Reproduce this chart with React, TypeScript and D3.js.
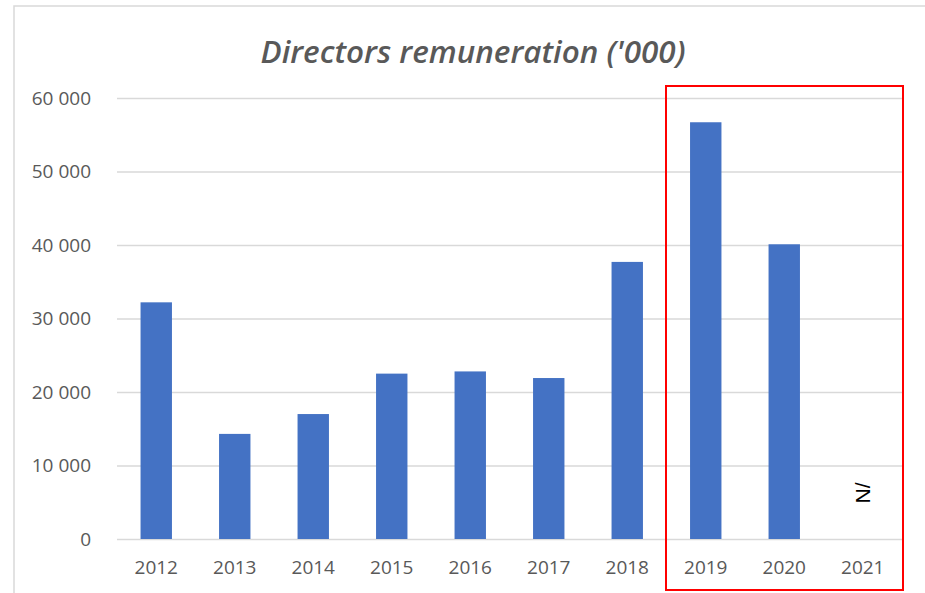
import { useEffect, useRef } from "react";
import * as d3 from "d3";

const years = ["2012", "2013", "2014", "2015", "2016", "2017", "2018", "2019", "2020", "2021"];
const remuneration: (number | null)[] = [32200, 14300, 17000, 22500, 22800, 21900, 37700, 56700, 40100, null];
const yTicks = [0, 10000, 20000, 30000, 40000, 50000, 60000];

const width = 925;
const height = 593;
const marginLeft = 117;
const marginRight = 23;
const marginTop = 98;
const marginBottom = 54;

const App = () => {
  const gx = useRef<SVGGElement | null>(null);
  const gy = useRef<SVGGElement | null>(null);

  const x = d3
    .scaleBand()
    .domain(years)
    .range([marginLeft, width - marginRight])
    .paddingInner(0.6)
    .paddingOuter(0.3);

  const y = d3
    .scaleLinear()
    .domain([0, 60000])
    .range([height - marginBottom, marginTop]);

  const fmt = (v: number) => d3.format(",")(v).replace(/,/g, " ");

  useEffect(() => {
    if (gy.current) {
      const g = d3.select(gy.current);
      g.call(
        d3
          .axisLeft(y)
          .tickValues(yTicks)
          .tickSize(-(width - marginRight - marginLeft))
          .tickPadding(26)
          .tickFormat((d) => fmt(d as number))
      );
      g.select(".domain").remove();
      g.selectAll(".tick line").attr("stroke", "#d9d9d9").attr("stroke-width", 1.3);
      g.selectAll(".tick text")
        .attr("fill", "#595959")
        .attr("font-size", 19)
        .attr("font-family", "'Open Sans', sans-serif");
    }
    if (gx.current) {
      const g = d3.select(gx.current);
      g.call(d3.axisBottom(x).tickSize(0).tickPadding(22));
      g.select(".domain").remove();
      g.selectAll(".tick text")
        .attr("fill", "#595959")
        .attr("font-size", 19)
        .attr("font-family", "'Open Sans', sans-serif");
    }
  }, [x, y]);

  const x2021 = (x("2021") ?? 0) + x.bandwidth() / 2;

  return (
    <svg
      width={width}
      height={height}
      style={{ position: "absolute", left: 0, top: 0, background: "#fff" }}
    >
      <rect x={14} y={6} width={width + 20} height={height + 20} fill="#fff" stroke="#d9d9d9" strokeWidth={1.5} />
      <text
        x={473}
        y={63}
        textAnchor="middle"
        fill="#595959"
        fontSize={30}
        fontStyle="italic"
        fontWeight={600}
        fontFamily="'Open Sans', sans-serif"
        textLength={425}
        lengthAdjust="spacingAndGlyphs"
      >
        Directors remuneration ('000)
      </text>
      <g ref={gy} transform={`translate(${marginLeft},0)`} />
      <g ref={gx} transform={`translate(0,${height - marginBottom})`} />
      {years.map((yr, i) => {
        const v = remuneration[i];
        if (v == null) return null;
        return (
          <rect
            key={yr}
            x={x(yr)}
            y={y(v)}
            width={x.bandwidth()}
            height={y(0) - y(v)}
            fill="#4472c4"
          />
        );
      })}
      <text
        transform={`translate(${x2021 + 7},${493}) rotate(-90)`}
        textAnchor="middle"
        fontSize={21}
        fill="#000"
        fontFamily="'Liberation Sans', Arial, sans-serif"
      >
        N/
      </text>
      <rect x={666} y={86} width={237} height={504} fill="none" stroke="#ff0000" strokeWidth={2} />
    </svg>
  );
};

export default App;
